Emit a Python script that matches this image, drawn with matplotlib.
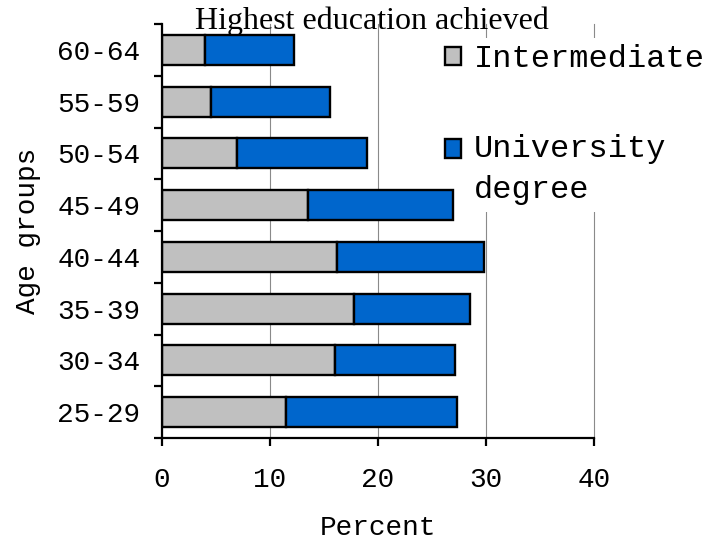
import matplotlib
matplotlib.use("Agg")
import matplotlib.pyplot as plt
import numpy as np

age_groups = ["25-29", "30-34", "35-39", "40-44", "45-49", "50-54", "55-59", "60-64"]
intermediate = [11.5, 16.0, 17.8, 16.2, 13.5, 6.9, 4.5, 4.0]
university = [15.8, 11.1, 10.7, 13.6, 13.4, 12.1, 11.1, 8.2]
x_ticks = [0, 10, 20, 30, 40]

mono = "Liberation Mono"
serif = "Liberation Serif"

fig = plt.figure(figsize=(7.11, 5.41), dpi=100)
ax = fig.add_axes([162 / 711, 1 - 438 / 541, (594 - 162) / 711, (438 - 24) / 541])

y = np.arange(len(age_groups))
ax.barh(y, intermediate, height=0.58, color="#C0C0C0", edgecolor="black", linewidth=1.7,
        label="Intermediate", zorder=3)
ax.barh(y, university, left=intermediate, height=0.58, color="#0066CC", edgecolor="black",
        linewidth=1.7, label="University\ndegree", zorder=3)

ax.set_xlim(0, 40)
ax.set_ylim(-0.5, len(age_groups) - 0.5)

ax.set_xticks(x_ticks)
ax.set_xticklabels([str(v) for v in x_ticks], fontfamily=mono, fontsize=20)
ax.set_yticks(np.arange(len(age_groups) + 1) - 0.5)
ax.set_yticklabels([])
ax.set_yticks(y, minor=True)
ax.set_yticklabels(age_groups, minor=True, fontfamily=mono, fontsize=20)
ax.tick_params(axis="y", which="minor", length=0, pad=15.5)
ax.tick_params(axis="y", which="major", length=6, width=1.6, direction="out")
ax.tick_params(axis="x", which="major", length=6, width=1.6, direction="out", pad=15)

ax.grid(axis="x", color="#8a8a8a", linewidth=0.8)
ax.set_axisbelow(True)
for gl in ax.get_xgridlines():
    gl.set_clip_on(False)
for s in ["top", "right"]:
    ax.spines[s].set_visible(False)
for s in ["left", "bottom"]:
    ax.spines[s].set_linewidth(1.6)
    ax.spines[s].set_zorder(4)

ax.set_xlabel("Percent", fontfamily=mono, fontsize=20, labelpad=16)
ax.set_ylabel("Age groups", fontfamily=mono, fontsize=20, labelpad=11.5)

fig.text(372 / 711, 1 - 29 / 541, "Highest education achieved", fontfamily=serif,
         fontsize=23, ha="center", va="baseline")

leg = ax.legend(loc="upper left", bbox_to_anchor=(439 / 711, 1 - 38 / 541),
                bbox_transform=fig.transFigure,
                prop={"family": mono, "size": 23}, frameon=True, facecolor="white",
                edgecolor="none", framealpha=1, fancybox=False, borderpad=0.2,
                handlelength=0.5, handleheight=0.5, handletextpad=0.4,
                labelspacing=1.88, borderaxespad=0)
leg.set_zorder(2)
for t in leg.get_texts():
    t.set_linespacing(1.48)
# put the handle of the two-line entry next to its first line
h2 = leg.legend_handles[1]
h2.set_y(h2.get_y() + 15.6)

fig.savefig("out.png", dpi=100)
